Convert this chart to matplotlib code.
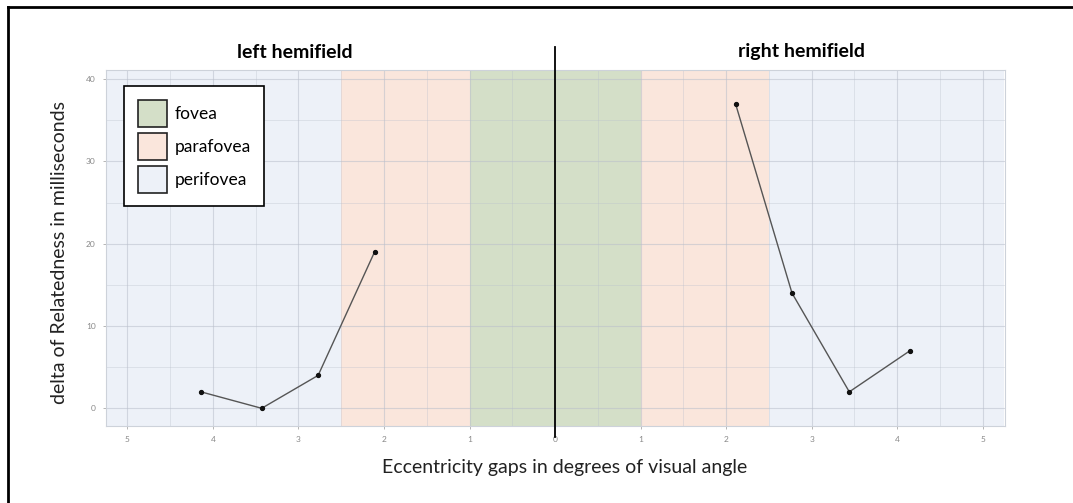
import numpy as np
import matplotlib
matplotlib.use("Agg")
import matplotlib.pyplot as plt
from matplotlib.patches import Patch
from matplotlib.lines import Line2D
import matplotlib.transforms as mtransforms

plt.rcParams['font.family'] = ['Lato', 'DejaVu Sans']

# Data (x in degrees, negative = left hemifield)
left_x = [-4.14, -3.43, -2.77, -2.11]
left_y = [2, 0, 4, 19]
right_x = [2.11, 2.77, 3.44, 4.15]
right_y = [37, 14, 2, 7]

# Regions and their edges (distance from the centre)
regions = ['fovea', 'parafovea', 'perifovea']
region_edges = [(0, 1), (1, 2.5), (2.5, 5.25)]
region_colors = ['#d4dfc8', '#fae6dc', '#edf1f8']

x_ticks = [-5, -4, -3, -2, -1, 0, 1, 2, 3, 4, 5]
y_ticks = [0, 10, 20, 30, 40]

fig = plt.figure(figsize=(10.73, 5.03), dpi=100)
ax = fig.add_axes([0.0988, 0.1539, 0.8378, 0.7069])

for (lo, hi), col in zip(region_edges, region_colors):
    ax.axvspan(lo, hi, color=col, zorder=0.2, lw=0)
    ax.axvspan(-hi, -lo, color=col, zorder=0.2, lw=0)

ax.set_xlim(-5.25, 5.26)
ax.set_ylim(-2.1, 41.1)

ax.set_xticks(x_ticks)
ax.set_xticklabels([str(abs(t)) for t in x_ticks])
ax.set_xticks(np.arange(-5, 5.01, 0.5), minor=True)
ax.set_yticks(y_ticks)
ax.set_yticks([5, 15, 25, 35], minor=True)

ax.set_axisbelow(True)
ax.grid(True, which='major', color='#b9bfcb', alpha=0.55, lw=0.8)
ax.grid(True, which='minor', color='#b9bfcb', alpha=0.4, lw=0.6)

ax.tick_params(which='major', length=2.5, width=0.6, color='#aaaaaa',
               labelsize=6, labelcolor='#888888', pad=5)
ax.tick_params(which='minor', length=0)

for s in ax.spines.values():
    s.set_color('#cdd2da')
    s.set_linewidth(0.8)

ax.plot(left_x, left_y, color='#555555', lw=1, marker='o', ms=2.8,
        mfc='#111111', mec='#111111', zorder=3)
ax.plot(right_x, right_y, color='#555555', lw=1, marker='o', ms=2.8,
        mfc='#111111', mec='#111111', zorder=3)

# central divider extending beyond the panel
trans = mtransforms.blended_transform_factory(ax.transData, ax.transAxes)
ax.add_line(Line2D([0, 0], [-0.032, 1.065], transform=trans, color='black',
                   lw=1.3, clip_on=False, zorder=4))

handles = [Patch(facecolor=c, edgecolor='#222222', lw=1.2, label=n)
           for n, c in zip(regions, region_colors)]
leg = ax.legend(handles=handles, loc='upper left', bbox_to_anchor=(0.02, 0.955),
                borderaxespad=0, fancybox=False, edgecolor='black', framealpha=1,
                fontsize=12.5, handlelength=1.7, handleheight=2.0, labelspacing=0.35,
                handletextpad=0.4, borderpad=0.8)
leg.get_frame().set_linewidth(1.2)
leg.set_zorder(5)

fig.text(295 / 1073, 1 - 52 / 503, 'left hemifield', fontsize=14, fontweight='bold',
         ha='center', va='center')
fig.text(802 / 1073, 1 - 52 / 503, 'right hemifield', fontsize=14, fontweight='bold',
         ha='center', va='center')
fig.text(565 / 1073, 1 - 468 / 503, 'Eccentricity gaps in degrees of visual angle',
         fontsize=14, ha='center', va='center', color='#222222')
fig.text(60 / 1073, 1 - 252 / 503, 'delta of Relatedness in milliseconds',
         fontsize=14, ha='center', va='center', rotation=90, color='#222222')

# outer frame (top and left edges visible)
fig.add_artist(Line2D([8 / 1073, 1.0], [1 - 7 / 503, 1 - 7 / 503], color='black',
                      lw=2, transform=fig.transFigure))
fig.add_artist(Line2D([8 / 1073, 8 / 1073], [0, 1 - 7 / 503], color='black',
                      lw=2, transform=fig.transFigure))

fig.savefig('out.png', dpi=100)
